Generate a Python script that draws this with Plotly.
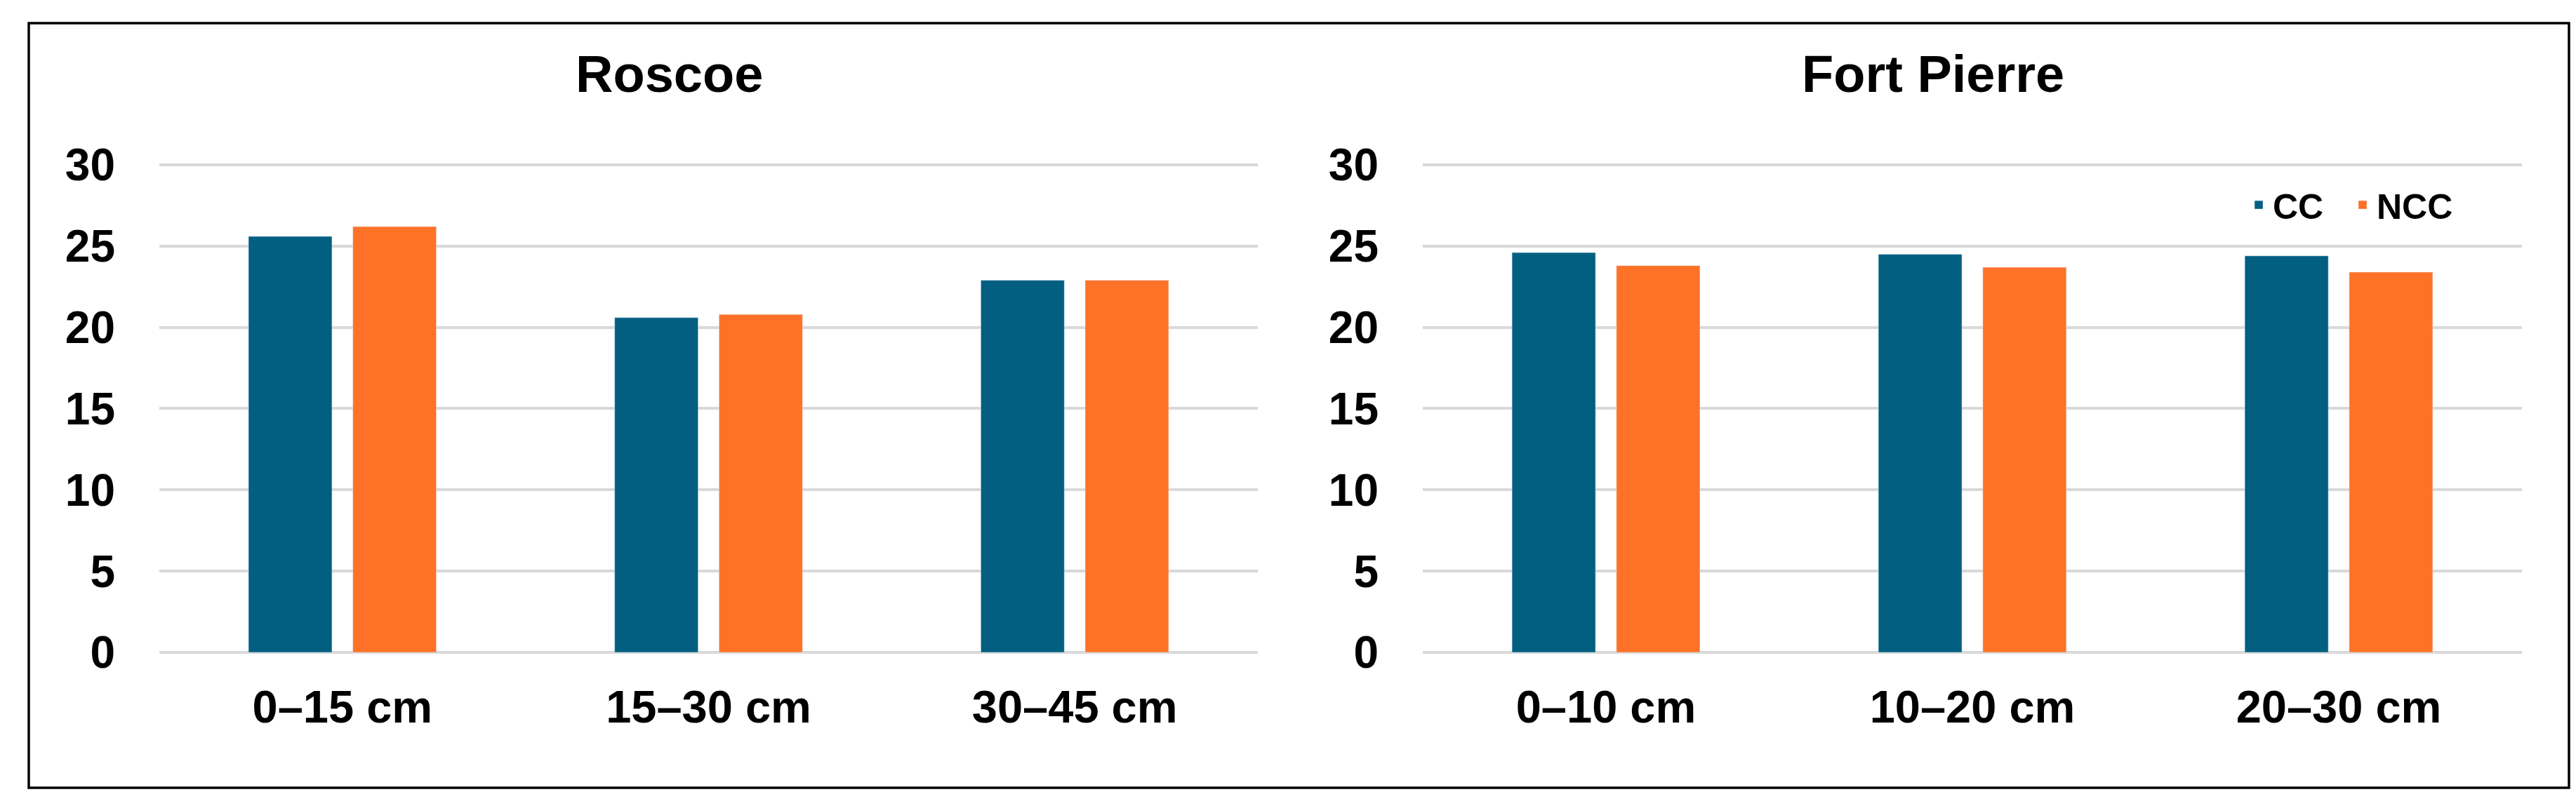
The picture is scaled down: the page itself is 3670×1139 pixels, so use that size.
import plotly.graph_objects as go

W, H = 3670, 1139

roscoe_depths = ["0–15 cm", "15–30 cm", "30–45 cm"]
roscoe_cc = [25.6, 20.6, 22.9]
roscoe_ncc = [26.2, 20.8, 22.9]

fortpierre_depths = ["0–10 cm", "10–20 cm", "20–30 cm"]
fortpierre_cc = [24.6, 24.5, 24.4]
fortpierre_ncc = [23.8, 23.7, 23.4]

y_ticks = [0, 5, 10, 15, 20, 25, 30]

CC_COLOR = "#035f82"
NCC_COLOR = "#fe7228"
FONT = "Liberation Sans, Arial, sans-serif"

fig = go.Figure()

fig.add_trace(go.Bar(x=roscoe_depths, y=roscoe_cc, name="CC", marker_color=CC_COLOR,
                     xaxis="x", yaxis="y", showlegend=True, legendgroup="CC"))
fig.add_trace(go.Bar(x=roscoe_depths, y=roscoe_ncc, name="NCC", marker_color=NCC_COLOR,
                     xaxis="x", yaxis="y", showlegend=True, legendgroup="NCC"))
fig.add_trace(go.Bar(x=fortpierre_depths, y=fortpierre_cc, name="CC", marker_color=CC_COLOR,
                     xaxis="x2", yaxis="y2", showlegend=False, legendgroup="CC"))
fig.add_trace(go.Bar(x=fortpierre_depths, y=fortpierre_ncc, name="NCC", marker_color=NCC_COLOR,
                     xaxis="x2", yaxis="y2", showlegend=False, legendgroup="NCC"))

def px_x(p):
    return p / W

def px_y(p):
    return 1 - p / H

# small padding so the 0 and 30 gridlines are not clipped at the range ends
PAD = 0.08
ppu = (922 - 227) / 30.0
ydom = [px_y(922 + PAD * ppu), px_y(227 - PAD * ppu)]

yaxis_common = dict(
    range=[-PAD, 30 + PAD], tickvals=y_ticks, showgrid=True, gridcolor="#d9d9d9", gridwidth=4,
    zeroline=False, showline=False, ticks="", ticklabelstandoff=62, automargin=False,
    tickfont=dict(family=FONT, size=64, color="black", weight="bold"),
    domain=ydom, fixedrange=True,
)
xaxis_common = dict(
    showgrid=False, zeroline=False, showline=False, ticks="", ticklabelstandoff=32,
    automargin=False,
    tickfont=dict(family=FONT, size=65, color="black", weight="bold"),
)

fig.update_layout(
    width=W, height=H,
    margin=dict(l=0, r=0, t=0, b=0, autoexpand=False),
    paper_bgcolor="white", plot_bgcolor="white",
    barmode="group", bargap=0.43, bargroupgap=0.2,
    xaxis=dict(domain=[px_x(219), px_x(1784)], anchor="y", **xaxis_common),
    yaxis=dict(anchor="x", **yaxis_common),
    xaxis2=dict(domain=[px_x(2019), px_x(3585)], anchor="y2", **xaxis_common),
    yaxis2=dict(anchor="x2", **yaxis_common),
    legend=dict(
        orientation="h", x=px_x(3190), xanchor="left", y=px_y(284), yanchor="middle",
        font=dict(family=FONT, size=50, color="black", weight="bold"),
        bgcolor="rgba(0,0,0,0)", itemwidth=30, tracegroupgap=0,
        entrywidth=103, entrywidthmode="pixels",
    ),
    showlegend=True,
)

fig.add_annotation(text="Roscoe", x=px_x(945), y=px_y(97), xref="paper", yref="paper",
                   showarrow=False, xanchor="center", yanchor="middle",
                   font=dict(family=FONT, size=74, color="black", weight="bold"))
fig.add_annotation(text="Fort Pierre", x=px_x(2746), y=px_y(97), xref="paper", yref="paper",
                   showarrow=False, xanchor="center", yanchor="middle",
                   font=dict(family=FONT, size=74, color="black", weight="bold"))

fig.add_shape(type="rect", xref="paper", yref="paper",
              x0=px_x(33), x1=px_x(3652), y0=px_y(1115), y1=px_y(25),
              line=dict(color="black", width=3.5), fillcolor="rgba(0,0,0,0)")

fig.write_html("out.html")
